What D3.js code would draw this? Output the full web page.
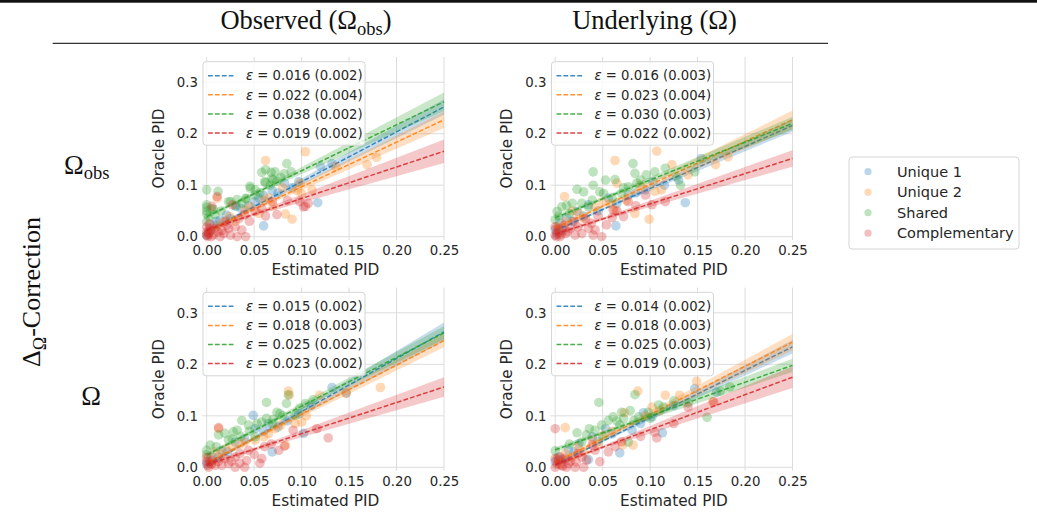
<!DOCTYPE html>
<html>
<head>
<meta charset="utf-8">
<script src="https://cdn.jsdelivr.net/npm/d3@7"></script>
<style>
  body { margin: 0; background: #fff; }
  svg { display: block; }
</style>
</head>
<body>
<svg width="1037" height="516"></svg>
<script>
// ---- data ----
var seriesNames = ["Unique 1", "Unique 2", "Shared", "Complementary"];
var colTitles = ["Observed", "Underlying"];
var xTicks = [0, 0.05, 0.10, 0.15, 0.20, 0.25];
var yTicks = [0, 0.1, 0.2, 0.3];

// top-left: observed / omega_obs
var tl_u1 = [[0.060,0.021],[0.117,0.066],[0.082,0.104],[0.097,0.107],[0.036,0.055],[0.031,0.059],[0.021,0.042],[0.014,0.032],[0.008,0.022],[0.004,0.012],[0.0,0.003],[0.051,0.068],[0.069,0.090],[0.132,0.142],[0.120,0.136],[0.044,0.060],[0.025,0.035],[0.002,0.008],[0.055,0.075],[0.075,0.085],[0.090,0.095],[0.010,0.030],[0.060,0.080]];
var tl_u2 = [[0.104,0.165],[0.062,0.148],[0.169,0.140],[0.179,0.154],[0.0985,0.104],[0.111,0.091],[0.100,0.084],[0.083,0.044],[0.090,0.034],[0.136,0.136],[0.011,0.075],[0.040,0.052],[0.024,0.039],[0.011,0.020],[0.004,0.012],[0.070,0.060],[0.055,0.045],[0.030,0.030],[0.095,0.090],[0.060,0.070],[0.017,0.028],[0.002,0.005],[0.080,0.095],[0.046,0.058],[0.065,0.075]];
var tl_s = [[0.0844,0.142],[0.072,0.126],[0.0686,0.113],[0.062,0.105],[0.046,0.094],[0.051,0.091],[0.0,0.091],[0.012,0.088],[0.023,0.068],[0.0,0.057],[0.005,0.054],[0.0,0.044],[0.041,0.074],[0.056,0.085],[0.074,0.108],[0.062,0.130],[0.058,0.125],[0.068,0.125],[0.0817,0.122],[0.089,0.126],[0.070,0.110],[0.061,0.107],[0.0456,0.098],[0.067,0.100],[0.025,0.068],[0.032,0.072],[0.042,0.074],[0.0,0.062],[0.007,0.053],[0.0,0.050],[0.0085,0.043],[0.0,0.029],[0.051,0.081],[0.030,0.060],[0.015,0.050],[0.002,0.038],[0.037,0.065],[0.078,0.115]];
var tl_c = [[0.011,0.078],[0.0055,0.059],[0.027,0.062],[0.069,0.068],[0.104,0.059],[0.107,0.065],[0.040,0.043],[0.051,0.049],[0.058,0.055],[0.074,0.043],[0.030,0.019],[0.032,0.0],[0.041,0.0],[0.025,0.003],[0.018,0.006],[0.012,0.009],[0.005,0.0],[0.0,0.003],[0.003,0.016],[0.0,0.009],[0.009,0.016],[0.021,0.022],[0.014,0.0],[0.023,0.016],[0.037,0.013],[0.0,0.019],[0.102,0.058],[0.098,0.068],[0.002,0.006],[0.007,0.004],[0.016,0.012],[0.001,0.0],[0.045,0.030],[0.034,0.035],[0.062,0.040],[0.020,0.030],[0.003,0.025],[0.085,0.070]];

// top-right: underlying / omega_obs
var tr_u1 = [[0.137,0.066],[0.064,0.021],[0.103,0.107],[0.095,0.091],[0.154,0.152],[0.056,0.075],[0.035,0.062],[0.023,0.049],[0.012,0.037],[0.005,0.027],[0.0,0.014],[0.077,0.081],[0.130,0.110],[0.045,0.050],[0.085,0.085],[0.115,0.100],[0.018,0.030],[0.002,0.005],[0.065,0.065],[0.030,0.040],[0.008,0.012]];
var tr_u2 = [[0.107,0.166],[0.063,0.148],[0.123,0.140],[0.169,0.140],[0.182,0.155],[0.0098,0.078],[0.065,0.104],[0.084,0.045],[0.099,0.034],[0.112,0.091],[0.105,0.088],[0.063,0.052],[0.042,0.058],[0.025,0.045],[0.011,0.029],[0.002,0.019],[0.075,0.070],[0.050,0.068],[0.090,0.100],[0.030,0.035],[0.018,0.050],[0.140,0.120],[0.005,0.008],[0.058,0.064]];
var tr_s = [[0.082,0.142],[0.040,0.126],[0.053,0.110],[0.063,0.111],[0.084,0.123],[0.096,0.120],[0.105,0.126],[0.116,0.133],[0.040,0.100],[0.023,0.092],[0.030,0.087],[0.047,0.087],[0.051,0.084],[0.070,0.084],[0.077,0.097],[0.086,0.104],[0.132,0.100],[0.128,0.116],[0.147,0.126],[0.007,0.058],[0.012,0.061],[0.018,0.065],[0.002,0.049],[0.0,0.033],[0.0035,0.040],[0.028,0.065],[0.039,0.071],[0.060,0.075],[0.090,0.110],[0.015,0.045],[0.072,0.095],[0.035,0.058]];
var tr_c = [[0.072,0.039],[0.077,0.068],[0.102,0.062],[0.116,0.068],[0.095,0.081],[0.054,0.023],[0.049,0.0],[0.040,0.003],[0.035,0.016],[0.028,0.006],[0.021,0.003],[0.016,0.016],[0.011,0.006],[0.005,0.0],[0.0,0.003],[0.0,0.019],[0.0035,0.016],[0.024,0.019],[0.038,0.026],[0.032,0.035],[0.061,0.052],[0.060,0.037],[0.042,0.013],[0.009,0.022],[0.002,0.009],[0.001,0.0],[0.006,0.004],[0.013,0.010],[0.085,0.060],[0.045,0.040],[0.020,0.030],[0.065,0.050]];

// bottom-left: observed / omega
var bl_u1 = [[0.049,0.101],[0.069,0.030],[0.102,0.066],[0.132,0.155],[0.147,0.144],[0.097,0.104],[0.051,0.075],[0.030,0.049],[0.016,0.033],[0.0055,0.020],[0.0,0.007],[0.075,0.078],[0.040,0.055],[0.060,0.070],[0.085,0.090],[0.022,0.030],[0.003,0.010],[0.110,0.120],[0.012,0.020],[0.065,0.085]];
var bl_u2 = [[0.086,0.148],[0.183,0.155],[0.0125,0.075],[0.100,0.088],[0.093,0.085],[0.083,0.043],[0.060,0.059],[0.051,0.053],[0.040,0.049],[0.027,0.040],[0.009,0.030],[0.002,0.020],[0.119,0.140],[0.147,0.144],[0.072,0.075],[0.087,0.140],[0.015,0.025],[0.035,0.045],[0.065,0.065],[0.005,0.008],[0.105,0.100],[0.020,0.035],[0.078,0.082]];
var bl_s = [[0.063,0.126],[0.086,0.141],[0.084,0.124],[0.074,0.107],[0.077,0.104],[0.037,0.091],[0.053,0.085],[0.058,0.088],[0.069,0.085],[0.028,0.069],[0.032,0.072],[0.019,0.066],[0.0125,0.063],[0.023,0.053],[0.0037,0.043],[0.0,0.033],[0.104,0.124],[0.112,0.131],[0.093,0.101],[0.044,0.082],[0.051,0.059],[0.063,0.095],[0.045,0.070],[0.080,0.100],[0.010,0.040],[0.027,0.055],[0.070,0.093],[0.036,0.060],[0.098,0.115],[0.0,0.025]];
var bl_c = [[0.128,0.057],[0.091,0.072],[0.116,0.075],[0.076,0.033],[0.082,0.041],[0.058,0.017],[0.056,0.008],[0.042,0.013],[0.040,0.0],[0.030,0.0],[0.023,0.007],[0.016,0.004],[0.009,0.004],[0.002,0.0],[0.0,0.011],[0.0,0.019],[0.0055,0.013],[0.030,0.020],[0.035,0.027],[0.061,0.040],[0.044,0.033],[0.019,0.017],[0.0125,0.077],[0.005,0.006],[0.012,0.011],[0.026,0.012],[0.001,0.004],[0.050,0.025],[0.068,0.045],[0.035,0.008]];

// bottom-right: underlying / omega
var br_u1 = [[0.113,0.067],[0.068,0.028],[0.147,0.153],[0.093,0.106],[0.102,0.098],[0.053,0.075],[0.039,0.059],[0.025,0.046],[0.014,0.034],[0.0035,0.020],[0.0,0.011],[0.035,0.015],[0.081,0.072],[0.170,0.146],[0.060,0.065],[0.045,0.050],[0.090,0.085],[0.008,0.015],[0.125,0.120],[0.020,0.030]];
var br_u2 = [[0.087,0.148],[0.149,0.167],[0.116,0.140],[0.131,0.140],[0.0105,0.077],[0.073,0.106],[0.082,0.043],[0.071,0.043],[0.051,0.062],[0.039,0.053],[0.024,0.040],[0.0105,0.027],[0.002,0.017],[0.102,0.117],[0.166,0.127],[0.060,0.070],[0.095,0.100],[0.030,0.030],[0.045,0.045],[0.005,0.006],[0.018,0.020],[0.110,0.110]];
var br_s = [[0.046,0.126],[0.084,0.141],[0.079,0.110],[0.070,0.107],[0.098,0.107],[0.109,0.121],[0.114,0.117],[0.125,0.129],[0.160,0.097],[0.174,0.148],[0.0,0.032],[0.023,0.067],[0.033,0.063],[0.042,0.072],[0.049,0.082],[0.056,0.091],[0.061,0.098],[0.068,0.082],[0.083,0.091],[0.028,0.049],[0.088,0.098],[0.077,0.049],[0.184,0.156],[0.140,0.125],[0.065,0.090],[0.015,0.045],[0.050,0.060],[0.100,0.095],[0.036,0.075],[0.072,0.095]];
var br_c = [[0.0,0.075],[0.107,0.057],[0.125,0.085],[0.167,0.127],[0.140,0.117],[0.105,0.068],[0.063,0.040],[0.056,0.030],[0.047,0.011],[0.033,0.014],[0.030,0.0],[0.021,0.0],[0.014,0.007],[0.0065,0.004],[0.0,0.0],[0.0035,0.014],[0.0,0.017],[0.0105,0.017],[0.024,0.027],[0.042,0.033],[0.022,0.010],[0.039,0.043],[0.002,0.006],[0.008,0.002],[0.016,0.012],[0.005,0.020],[0.028,0.020],[0.012,0.0],[0.090,0.060],[0.070,0.050]];

// regression fits: [value at x=0, value at x=0.25] per series
var tl_fit = [[0.010,0.252],[0.010,0.227],[0.039,0.262],[0.013,0.166]];
var tr_fit = [[0.012,0.216],[0.017,0.227],[0.037,0.220],[0.005,0.152]];
var bl_fit = [[0.005,0.263],[0.008,0.246],[0.024,0.261],[0.005,0.156]];
var br_fit = [[0.005,0.234],[0.009,0.243],[0.034,0.198],[0.005,0.175]];
// band half widths at x = 0, 0.05, 0.25
var bandX = [0, 0.05, 0.25];
var tl_band = [[0.004,0.003,0.015],[0.005,0.003,0.016],[0.004,0.003,0.018],[0.004,0.003,0.023]];
var tr_band = [[0.004,0.002,0.012],[0.005,0.003,0.018],[0.005,0.003,0.013],[0.004,0.003,0.016]];
var bl_band = [[0.004,0.003,0.018],[0.004,0.003,0.013],[0.004,0.003,0.013],[0.004,0.003,0.019]];
var br_band = [[0.003,0.002,0.013],[0.004,0.003,0.016],[0.005,0.003,0.013],[0.004,0.003,0.021]];
// epsilon (std) legend labels
var tl_eps = ["0.016 (0.002)","0.022 (0.004)","0.038 (0.002)","0.019 (0.002)"];
var tr_eps = ["0.016 (0.003)","0.023 (0.004)","0.030 (0.003)","0.022 (0.002)"];
var bl_eps = ["0.015 (0.002)","0.018 (0.003)","0.025 (0.002)","0.023 (0.002)"];
var br_eps = ["0.014 (0.002)","0.018 (0.003)","0.025 (0.003)","0.019 (0.003)"];

var colors = ["#1f77b4", "#ff7f0e", "#2ca02c", "#d62728"];
var textColor = "#262626";
var sans = "DejaVu Sans, sans-serif";
var serif = "Liberation Serif, Times New Roman, serif";

var svg = d3.select("svg");

// top rule and header rule
svg.append("rect").attr("x", 0).attr("y", 0).attr("width", 1037).attr("height", 2.7).attr("fill", "#111");
svg.append("line").attr("x1", 52.7).attr("x2", 828).attr("y1", 43.3).attr("y2", 43.3)
  .attr("stroke", "#333").attr("stroke-width", 1.3);

// column headers
function header(x, main, sub) {
  var t = svg.append("text").attr("x", x).attr("y", 29.3).attr("text-anchor", "middle")
    .attr("font-family", serif).attr("font-size", 26.5).attr("fill", "#111");
  t.append("tspan").text(main + " (\u03A9");
  if (sub) t.append("tspan").attr("font-size", 18.5).attr("dy", 5.5).text(sub);
  t.append("tspan").attr("dy", sub ? -5.5 : 0).text(")");
}
header(306, colTitles[0], "obs");
header(654.5, colTitles[1], null);

// row labels
var r0 = svg.append("text").attr("x", 64).attr("y", 173.5).attr("font-family", serif)
  .attr("font-size", 26.5).attr("fill", "#111");
r0.append("tspan").text("\u03A9");
r0.append("tspan").attr("font-size", 18.5).attr("dy", 5.5).text("obs");
svg.append("text").attr("x", 91).attr("y", 405).attr("text-anchor", "middle").attr("font-family", serif)
  .attr("font-size", 26.5).attr("fill", "#111").text("\u03A9");

var side = svg.append("text").attr("transform", "translate(40,292) rotate(-90)")
  .attr("text-anchor", "middle").attr("font-family", serif).attr("font-size", 26).attr("fill", "#111");
side.append("tspan").text("\u0394");
side.append("tspan").attr("font-size", 18).attr("dy", 5.5).text("\u03A9");
side.append("tspan").attr("dy", -5.5).text("-Correction");

// panels
var panels = [
  {col: 0, row: 0, pts: [tl_u1, tl_u2, tl_s, tl_c], fit: tl_fit, band: tl_band, eps: tl_eps},
  {col: 1, row: 0, pts: [tr_u1, tr_u2, tr_s, tr_c], fit: tr_fit, band: tr_band, eps: tr_eps},
  {col: 0, row: 1, pts: [bl_u1, bl_u2, bl_s, bl_c], fit: bl_fit, band: bl_band, eps: bl_eps},
  {col: 1, row: 1, pts: [br_u1, br_u2, br_s, br_c], fit: br_fit, band: br_band, eps: br_eps}
];

var colOff = 348.5, rowOff = 230.6;

panels.forEach(function(p) {
  var left = 202 + p.col * colOff, right = 444 + p.col * colOff;
  var top = 57 + p.row * rowOff, bottom = 240 + p.row * rowOff;
  var x0 = 206.7 + p.col * colOff;

  var x = d3.scaleLinear().domain([0, 0.25]).range([x0, right]);
  var y = d3.scaleLinear().domain([-0.0064, 0.349]).range([bottom, top]);

  var g = svg.append("g");

  // grid
  g.selectAll(".vg").data(xTicks).enter().append("line")
    .attr("x1", function(d) { return x(d); }).attr("x2", function(d) { return x(d); })
    .attr("y1", top).attr("y2", bottom).attr("stroke", "#dcdcdc").attr("stroke-width", 1);
  g.selectAll(".hg").data(yTicks).enter().append("line")
    .attr("x1", left).attr("x2", right)
    .attr("y1", function(d) { return y(d); }).attr("y2", function(d) { return y(d); })
    .attr("stroke", "#dcdcdc").attr("stroke-width", 1);

  // x axis (no domain line, no ticks, like seaborn despine)
  var xa = g.append("g").attr("transform", "translate(0," + bottom + ")")
    .call(d3.axisBottom(x).tickValues(xTicks).tickFormat(d3.format(".2f")).tickSize(0).tickPadding(6));
  xa.select(".domain").remove();
  xa.selectAll("text").attr("font-family", sans).attr("font-size", 13.3).attr("fill", textColor);

  var ya = g.append("g").attr("transform", "translate(" + left + ",0)")
    .call(d3.axisLeft(y).tickValues(yTicks).tickFormat(d3.format(".1f")).tickSize(0).tickPadding(4));
  ya.select(".domain").remove();
  ya.selectAll("text").attr("font-family", sans).attr("font-size", 13.3).attr("fill", textColor);

  g.append("text").attr("x", (x0 + right) / 2).attr("y", bottom + 35)
    .attr("text-anchor", "middle").attr("font-family", sans).attr("font-size", 15.3)
    .attr("fill", textColor).text("Estimated PID");
  g.append("text").attr("transform", "translate(" + (163.5 + p.col * colOff) + "," + ((top + bottom) / 2) + ") rotate(-90)")
    .attr("text-anchor", "middle").attr("font-family", sans).attr("font-size", 15.3)
    .attr("fill", textColor).text("Oracle PID");

  // series: scatter, band, dashed fit line
  p.pts.forEach(function(pts, i) {
    g.append("g").selectAll("circle").data(pts).enter().append("circle")
      .attr("cx", function(d) { return x(d[0]); })
      .attr("cy", function(d) { return y(d[1]); })
      .attr("r", 4.8)
      .attr("fill", colors[i]).attr("fill-opacity", 0.3);

    var f = p.fit[i];
    var fitY = d3.scaleLinear().domain([0, 0.25]).range(f);
    var hw = d3.scaleLinear().domain(bandX).range(p.band[i]);
    var area = d3.area()
      .x(function(d) { return x(d); })
      .y0(function(d) { return y(fitY(d) - hw(d)); })
      .y1(function(d) { return y(fitY(d) + hw(d)); });
    g.append("path").datum(bandX).attr("d", area)
      .attr("fill", colors[i]).attr("fill-opacity", 0.25);

    g.append("line")
      .attr("x1", x(0)).attr("y1", y(f[0]))
      .attr("x2", x(0.25)).attr("y2", y(f[1]))
      .attr("stroke", colors[i]).attr("stroke-width", 1.5).attr("stroke-opacity", 0.85)
      .attr("stroke-dasharray", "4.8,2.1");
  });

  // inner legend
  var lx = left + 1, ly = top + 4.7;
  var lg = g.append("g").attr("transform", "translate(" + lx + "," + ly + ")");
  lg.append("rect").attr("width", 162).attr("height", 83.5).attr("rx", 3)
    .attr("fill", "#fff").attr("fill-opacity", 0.8)
    .attr("stroke", "#d5d5d5").attr("stroke-width", 1);
  p.eps.forEach(function(e, i) {
    var ry = 14 + i * 19.1;
    lg.append("line").attr("x1", 5).attr("x2", 32).attr("y1", ry).attr("y2", ry)
      .attr("stroke", colors[i]).attr("stroke-width", 1.5).attr("stroke-opacity", 0.85)
      .attr("stroke-dasharray", "4.8,2.1");
    var t = lg.append("text").attr("x", 43).attr("y", ry).attr("dy", "0.36em")
      .attr("font-family", sans).attr("font-size", 13.2).attr("fill", textColor);
    t.append("tspan").attr("font-style", "italic").text("\u03B5");
    t.append("tspan").text(" = " + e);
  });
});

// outer legend
var og = svg.append("g").attr("transform", "translate(849,157)");
og.append("rect").attr("width", 170).attr("height", 92).attr("rx", 3)
  .attr("fill", "#fff").attr("stroke", "#d5d5d5").attr("stroke-width", 1);
seriesNames.forEach(function(s, i) {
  var ry = 14.7 + i * 20.5;
  og.append("circle").attr("cx", 19).attr("cy", ry).attr("r", 3.6)
    .attr("fill", colors[i]).attr("fill-opacity", 0.3);
  og.append("text").attr("x", 48).attr("y", ry).attr("dy", "0.36em")
    .attr("font-family", sans).attr("font-size", 14.5).attr("fill", textColor).text(s);
});
</script>
</body>
</html>
